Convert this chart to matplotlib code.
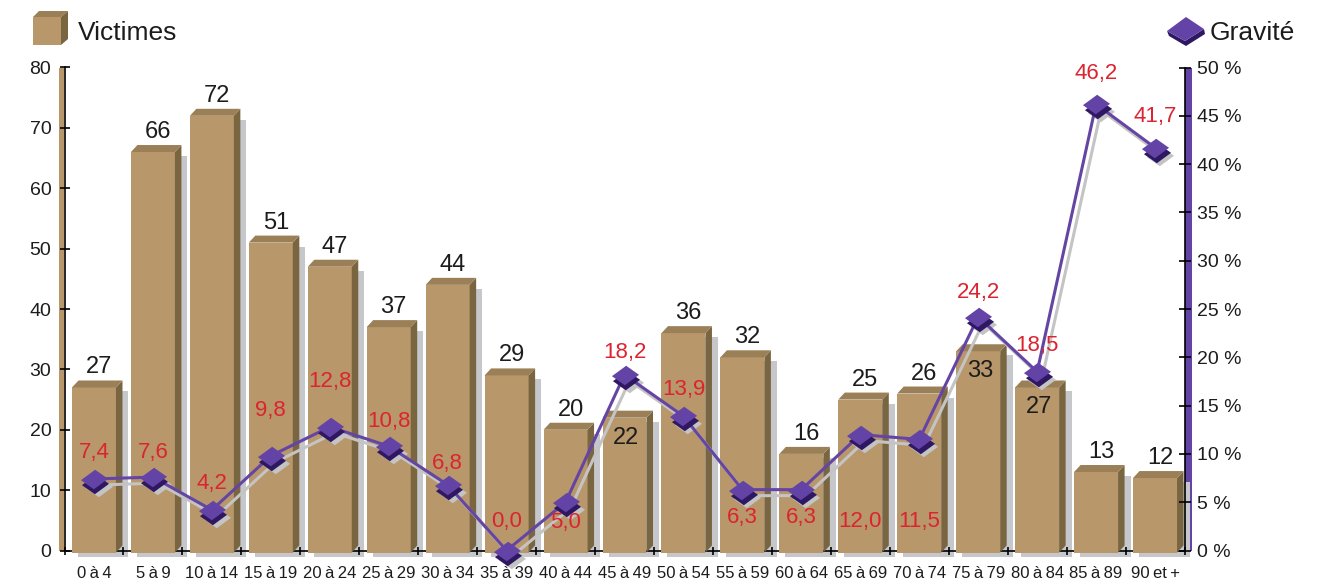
import matplotlib
matplotlib.use("Agg")
import matplotlib.pyplot as plt
from matplotlib.patches import Polygon, Rectangle
from matplotlib import transforms, font_manager

plt.rcParams["font.family"] = ["Liberation Sans", "DejaVu Sans"]

# ---- data ----
ages = ["0 à 4", "5 à 9", "10 à 14", "15 à 19", "20 à 24", "25 à 29", "30 à 34",
        "35 à 39", "40 à 44", "45 à 49", "50 à 54", "55 à 59", "60 à 64", "65 à 69",
        "70 à 74", "75 à 79", "80 à 84", "85 à 89", "90 et +"]
victimes = [27, 66, 72, 51, 47, 37, 44, 29, 20, 22, 36, 32, 16, 25, 26, 33, 27, 13, 12]
gravite = [7.4, 7.6, 4.2, 9.8, 12.8, 10.8, 6.8, 0.0, 5.0, 18.2, 13.9, 6.3, 6.3,
           12.0, 11.5, 24.2, 18.5, 46.2, 41.7]
y_ticks = [0, 10, 20, 30, 40, 50, 60, 70, 80]
pct_ticks = [0, 5, 10, 15, 20, 25, 30, 35, 40, 45, 50]

# label placement (pixels): bar labels inside the bar for these, gravity label offsets
bar_label_inside = {9, 15, 16}
grav_label_dy = [27, 25, 26, 45, 45, 25, 21, 29, -20, 22, 27, -28, -28, -87, -82, 24, 26, 31, 31]

# ---- colours ----
FRONT = "#b8976a"
TOP = "#9a7f57"
SIDE = "#7a6541"
SHADOW = "#c6c7cb"
PURPLE = "#6443a6"
PURPLE_DARK = "#2f1862"
LINE = "#6445a4"
RED = "#dc2430"
TXT = "#1c1c1c"

# condensed face for the age labels if available
try:
    font_manager.findfont("Liberation Sans Narrow", fallback_to_default=False)
    xlab_family = ["Liberation Sans Narrow", "Liberation Sans", "DejaVu Sans"]
    xlab_size = 13.5
    xlab_text = ages
except ValueError:
    xlab_family = ["Liberation Sans", "DejaVu Sans"]
    xlab_size = 12
    xlab_text = [a.replace(" ", "\u2009") for a in ages]

W, H = 1329, 586
fig = plt.figure(figsize=(W / 100, H / 100), dpi=100)
ax_l, ax_r, ax_t, ax_b = 64.5, 1184.5, 67.5, 550.5
ax = fig.add_axes([ax_l / W, 1 - ax_b / H, (ax_r - ax_l) / W, (ax_b - ax_t) / H])
ax2 = ax.twinx()

n = len(ages)
ax.set_xlim(0, n)
ax.set_ylim(0, 80)
ax2.set_ylim(0, 50)
px_x = (ax_r - ax_l) / n
px_y = (ax_b - ax_t) / 80.0

# ---- 3D bars ----
half_w = 22 / px_x
dx = 6.5 / px_x
dy = 7 / px_y
bottom = -2 / px_y
for i, v in enumerate(victimes):
    c = i + 0.5
    x0, x1 = c - half_w, c + half_w
    ax.add_patch(Rectangle((x0 + 6 / px_x, bottom - 4 / px_y), x1 + dx - x0, v - bottom,
                           facecolor=SHADOW, edgecolor="none", zorder=1, clip_on=False))
    ax.add_patch(Rectangle((x0, bottom), x1 - x0, v - bottom,
                           facecolor=FRONT, edgecolor="none", zorder=3, clip_on=False))
    ax.add_patch(Polygon([(x1, bottom), (x1 + dx, bottom + dy), (x1 + dx, v + dy), (x1, v)],
                         closed=True, facecolor=SIDE, edgecolor="none", zorder=3, clip_on=False))
    ax.add_patch(Polygon([(x0, v), (x1, v), (x1 + dx, v + dy), (x0 + dx, v + dy)],
                         closed=True, facecolor=TOP, edgecolor="none", zorder=3, clip_on=False))
    if i in bar_label_inside:
        ax.annotate(str(v), (c, v), xytext=(2 * 0.72, -20 * 0.72), textcoords="offset points",
                    ha="center", va="center", fontsize=17, color=TXT, zorder=6)
    else:
        ax.annotate(str(v), (c, v), xytext=(5 * 0.72, 20 * 0.72), textcoords="offset points",
                    ha="center", va="center", fontsize=17, color=TXT, zorder=6)

# ---- gravity line ----
xs = [i + 0.5 for i in range(n)]
diamond = [(-1, -0.05), (0.05, 0.72), (1, 0.05), (-0.05, -0.72), (-1, -0.05)]


def shifted(px, py):
    return ax2.transData + transforms.ScaledTranslation(px / 100, py / 100, fig.dpi_scale_trans)


MS = 19.5
ax2.plot(xs, gravite, color="#c4c4c4", lw=2.2, transform=shifted(5, -6), zorder=1, clip_on=False)
ax2.plot(xs, gravite, ls="none", marker=diamond, ms=MS, mfc="#c4c4c4", mec="none",
         transform=shifted(5, -8), zorder=1.5, clip_on=False)
ax2.plot(xs, gravite, color=LINE, lw=2.2, zorder=2, clip_on=False)
ax2.plot(xs, gravite, ls="none", marker=diamond, ms=MS, mfc=PURPLE_DARK, mec="none",
         transform=shifted(1.5, -5), zorder=3, clip_on=False)
ax2.plot(xs, gravite, ls="none", marker=diamond, ms=MS, mfc=PURPLE, mec="none",
         zorder=4, clip_on=False)
for x, g, d in zip(xs, gravite, grav_label_dy):
    ax2.annotate(f"{g:.1f}".replace(".", ","), (x, g), xytext=(0, d * 0.72),
                 textcoords="offset points", ha="center", va="center",
                 fontsize=16, color=RED, zorder=6)

# ---- axes styling ----
for a in (ax, ax2):
    a.spines["top"].set_visible(False)
    a.patch.set_visible(False)
ax.spines["right"].set_visible(False)
ax2.spines["left"].set_visible(False)
ax2.spines["bottom"].set_visible(False)
for s in ("left", "bottom"):
    ax.spines[s].set_color("black")
    ax.spines[s].set_linewidth(1.2)
ax2.spines["right"].set_color("black")
ax2.spines["right"].set_linewidth(1.2)

ax.set_yticks(y_ticks)
ax.set_yticklabels([str(t) for t in y_ticks])
ax.tick_params(axis="y", direction="inout", length=7, width=1.2, pad=6,
               labelsize=14, labelcolor=TXT)
ax.set_xticks(range(n + 1))
ax.set_xticklabels([])
ax.set_xticks(xs, minor=True)
ax.set_xticklabels(xlab_text, minor=True)
for t in ax.get_xticklabels(minor=True):
    t.set_fontfamily(xlab_family)
    t.set_fontsize(xlab_size)
    t.set_color(TXT)
ax.tick_params(axis="x", which="major", direction="inout", length=6, width=1.2)
ax.tick_params(axis="x", which="minor", length=0, pad=11)

ax2.set_yticks(pct_ticks)
ax2.set_yticklabels([f"{t} %" for t in pct_ticks])
ax2.tick_params(axis="y", direction="inout", length=8, width=1.2, pad=5,
                labelsize=14, labelcolor=TXT)

# ---- decorations: axis walls and legend ----
ov = fig.add_axes([0, 0, 1, 1], zorder=-1)
ov.set_xlim(0, W)
ov.set_ylim(H, 0)
ov.axis("off")
ov.add_patch(Rectangle((59, ax_t), 4.5, ax_b - ax_t, facecolor=FRONT, edgecolor="none"))
ov.add_patch(Rectangle((1185, ax_t), 6.5, ax_b - ax_t, facecolor=PURPLE, edgecolor="none"))

lg = fig.add_axes([0, 0, 1, 1], zorder=5)
lg.set_xlim(0, W)
lg.set_ylim(H, 0)
lg.axis("off")
lg.add_patch(Polygon([(33, 17), (61, 17), (61, 45), (33, 45)], facecolor=FRONT, edgecolor="none"))
lg.add_patch(Polygon([(33, 17), (39, 11), (68, 11), (61, 17)], facecolor=TOP, edgecolor="none"))
lg.add_patch(Polygon([(61, 17), (68, 11), (68, 39), (61, 45)], facecolor=SIDE, edgecolor="none"))
lg.text(78, 33, "Victimes", fontsize=19, color=TXT, va="center", ha="left")

lg.add_patch(Polygon([(1167, 31), (1169, 36), (1186, 46), (1205, 34), (1204, 29), (1185, 41)],
                     facecolor=PURPLE_DARK, edgecolor="none"))
lg.add_patch(Polygon([(1167, 31), (1186, 17), (1204, 29), (1185, 41)],
                     facecolor=PURPLE, edgecolor="none"))
lg.text(1210, 33, "Gravité", fontsize=19, color=TXT, va="center", ha="left")

fig.savefig("out.png", dpi=100)
